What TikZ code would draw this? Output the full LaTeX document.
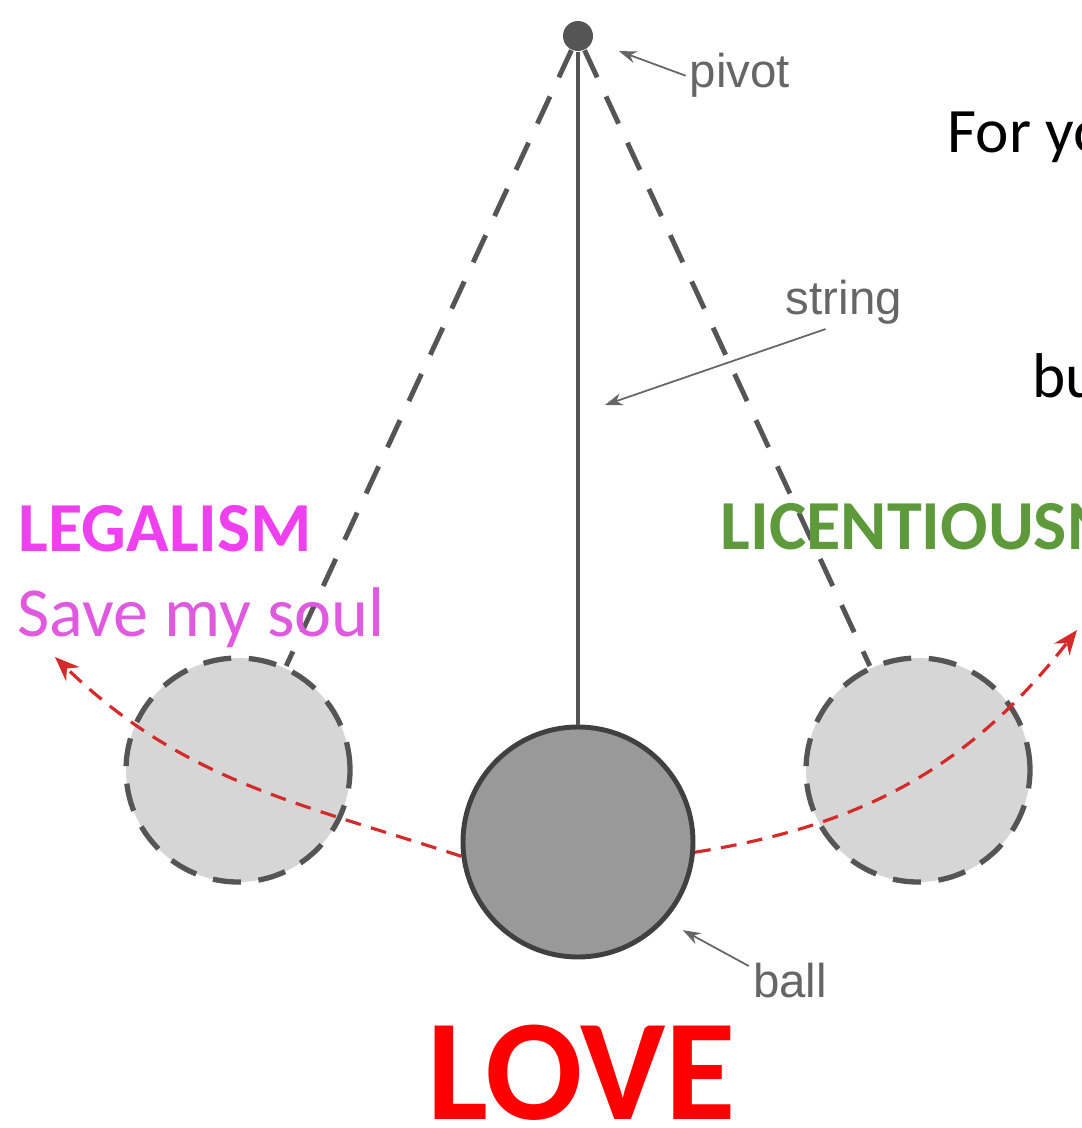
\documentclass[tikz,border=0pt]{standalone}
\usepackage{fontspec}
\setmainfont{Carlito}
\newfontfamily\notefont{Liberation Sans}
\usetikzlibrary{arrows.meta}

\definecolor{stringgray}{HTML}{555555}
\definecolor{ballgray}{HTML}{999999}
\definecolor{ghostgray}{HTML}{D6D6D6}
\definecolor{notegray}{HTML}{666666}
\definecolor{swingred}{HTML}{D42A2A}
\definecolor{legalpink}{HTML}{EE40EE}
\definecolor{soulpink}{HTML}{E05AE0}
\definecolor{licgreen}{HTML}{5E9A3C}
\definecolor{lovered}{HTML}{FF0000}

\begin{document}
\begin{tikzpicture}[>=Stealth,
        ghost/.style={circle, draw=stringgray, fill=ghostgray, line width=1.5pt,
            dash pattern=on 8pt off 5pt, minimum size=2.24cm, inner sep=0pt},
        dashstring/.style={stringgray, line width=1.4pt, dash pattern=on 8.5pt off 6pt},
        swing/.style={-{Stealth[length=7pt, width=5.5pt]}, swingred, line width=0.9pt,
            dash pattern=on 4.5pt off 3pt},
        note/.style={-{Stealth[length=5pt, width=3.5pt]}, notegray, line width=0.5pt},
        notetext/.style={notegray, font=\notefont\fontsize{13.5}{16}\selectfont, inner sep=1pt}]
        \useasboundingbox (0,0) rectangle (10.82,11.28);

        % Pendulum at rest
        \node[circle, fill=stringgray, minimum size=0.3cm, inner sep=0pt] (pivot) at (5.78, 10.92) {};
        \node[circle, draw=stringgray!75!black, fill=ballgray, line width=1.4pt,
            minimum size=2.3cm, inner sep=0pt] (ball) at (5.78, 2.86) {};
        \draw[stringgray, line width=1.2pt] (pivot) -- (ball);

        % Swung positions
        \node[ghost] (ghostL) at (2.38, 3.58) {};
        \node[ghost] (ghostR) at (9.18, 3.58) {};
        \draw[dashstring] (pivot) -- (ghostL);
        \draw[dashstring] (pivot) -- (ghostR);

        % Swing path
        \coordinate (endL) at (0.55, 4.71);
        \coordinate (endR) at (10.77, 4.98);
        \draw[swing] (ball.187) to[out=162, in=-44] (endL);
        \draw[swing] (ball.-5) to[out=9, in=-128] (endR);

        % Part labels
        \node[notetext, anchor=base] (pivotlbl) at (7.40, 10.40) {pivot};
        \draw[note, shorten >=0.28cm] (pivotlbl.west) -- (pivot);
        \node[notetext, anchor=base] (stringlbl) at (8.44, 8.13) {string};
        \coordinate (stringpt) at (6.05, 7.23);
        \draw[note] (stringlbl.235) -- (stringpt);
        \node[notetext, anchor=base] (balllbl) at (7.90, 1.30) {ball};
        \draw[note, shorten >=0.2cm] (balllbl.160) -- (ball.-42);

        % Side words
        \node[legalpink, font=\bfseries\fontsize{20}{24}\selectfont, anchor=base west, inner sep=0pt]
            (legalism) at (0.18, 5.76) {LEGALISM};
        \node[soulpink, font=\fontsize{20}{24}\selectfont, anchor=base west, inner sep=0pt]
            (soul) at (0.17, 4.91) {Save my soul};
        \node[licgreen, font=\bfseries\fontsize{20}{24}\selectfont, anchor=base west, inner sep=0pt]
            (licence) at (7.20, 5.78) {LICENTIOUSNESS};

        % Verse, cut by the frame
        \node[font=\fontsize{18}{22}\selectfont, anchor=base west, inner sep=0pt] (verse1) at (9.47, 9.75) {For you};
        \node[font=\fontsize{18}{22}\selectfont, anchor=base west, inner sep=0pt] (verse2) at (10.32, 7.30) {but};

        % Centre word
        \node[lovered, font=\bfseries\fontsize{41}{48}\selectfont, anchor=base, inner sep=0pt]
            (love) at (5.815, 0.08) {LOVE};
    \end{tikzpicture}
\end{document}
